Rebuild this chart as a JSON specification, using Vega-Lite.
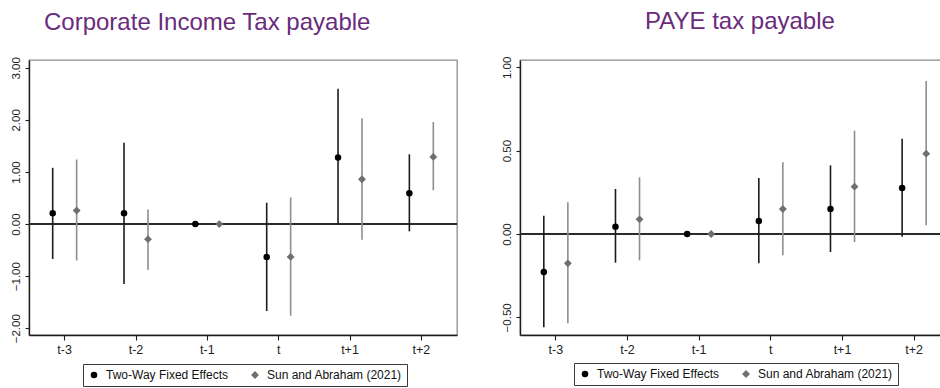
{
  "$schema": "https://vega.github.io/schema/vega-lite/v6.json",
  "padding": {"left": 9, "top": 9, "right": 0, "bottom": 0},
  "datasets": {
    "cit": [
      {"period": "t-3", "method": "Two-Way Fixed Effects", "est": 0.21, "lo": -0.67, "hi": 1.08},
      {"period": "t-3", "method": "Sun and Abraham (2021)", "est": 0.26, "lo": -0.70, "hi": 1.24},
      {"period": "t-2", "method": "Two-Way Fixed Effects", "est": 0.21, "lo": -1.15, "hi": 1.56},
      {"period": "t-2", "method": "Sun and Abraham (2021)", "est": -0.29, "lo": -0.88, "hi": 0.28},
      {"period": "t-1", "method": "Two-Way Fixed Effects", "est": 0, "lo": 0, "hi": 0},
      {"period": "t-1", "method": "Sun and Abraham (2021)", "est": 0, "lo": 0, "hi": 0},
      {"period": "t", "method": "Two-Way Fixed Effects", "est": -0.63, "lo": -1.67, "hi": 0.41},
      {"period": "t", "method": "Sun and Abraham (2021)", "est": -0.63, "lo": -1.76, "hi": 0.51},
      {"period": "t+1", "method": "Two-Way Fixed Effects", "est": 1.28, "lo": -0.02, "hi": 2.60},
      {"period": "t+1", "method": "Sun and Abraham (2021)", "est": 0.86, "lo": -0.30, "hi": 2.03},
      {"period": "t+2", "method": "Two-Way Fixed Effects", "est": 0.59, "lo": -0.14, "hi": 1.34},
      {"period": "t+2", "method": "Sun and Abraham (2021)", "est": 1.29, "lo": 0.65, "hi": 1.96}
    ],
    "paye": [
      {"period": "t-3", "method": "Two-Way Fixed Effects", "est": -0.228, "lo": -0.56, "hi": 0.11},
      {"period": "t-3", "method": "Sun and Abraham (2021)", "est": -0.176, "lo": -0.536, "hi": 0.19},
      {"period": "t-2", "method": "Two-Way Fixed Effects", "est": 0.044, "lo": -0.172, "hi": 0.27},
      {"period": "t-2", "method": "Sun and Abraham (2021)", "est": 0.088, "lo": -0.158, "hi": 0.34},
      {"period": "t-1", "method": "Two-Way Fixed Effects", "est": 0, "lo": 0, "hi": 0},
      {"period": "t-1", "method": "Sun and Abraham (2021)", "est": 0, "lo": 0, "hi": 0},
      {"period": "t", "method": "Two-Way Fixed Effects", "est": 0.078, "lo": -0.176, "hi": 0.336},
      {"period": "t", "method": "Sun and Abraham (2021)", "est": 0.15, "lo": -0.128, "hi": 0.43},
      {"period": "t+1", "method": "Two-Way Fixed Effects", "est": 0.15, "lo": -0.108, "hi": 0.412},
      {"period": "t+1", "method": "Sun and Abraham (2021)", "est": 0.284, "lo": -0.048, "hi": 0.62},
      {"period": "t+2", "method": "Two-Way Fixed Effects", "est": 0.276, "lo": -0.016, "hi": 0.572},
      {"period": "t+2", "method": "Sun and Abraham (2021)", "est": 0.482, "lo": 0.052, "hi": 0.918}
    ]
  },
  "config": {
    "font": "Liberation Sans",
    "view": {"stroke": "#8c8c8c", "strokeWidth": 1.3},
    "axis": {"grid": false, "domainColor": "#1e1e1e", "tickColor": "#1e1e1e", "labelColor": "#222222", "labelFontSize": 12, "domainWidth": 1.4, "tickWidth": 1.1, "labelFont": "Liberation Sans"},
    "axisX": {"tickSize": 5, "labelPadding": 3, "labelAngle": 0, "labelFontSize": 12.5},
    "axisY": {"tickSize": 4, "labelAngle": -90, "labelPadding": 4, "format": ".2f", "labelFontSize": 11.5},
    "title": {"fontSize": 24, "font": "Liberation Sans", "fontWeight": "normal", "color": "#6a2b7d", "anchor": "start", "offset": 22},
    "legend": {"direction": "horizontal", "strokeColor": "#3a3a3a", "padding": 5, "labelFontSize": 12, "labelFont": "Liberation Sans", "labelColor": "#111111", "columnPadding": 20, "labelOffset": 6, "symbolStrokeWidth": 0},
    "concat": {"spacing": 41}
  },
  "resolve": {
    "scale": {"x": "independent", "y": "independent", "color": "independent", "shape": "independent", "size": "independent", "xOffset": "independent"},
    "legend": {"color": "independent", "shape": "independent", "size": "independent"}
  },
  "hconcat": [
    {
      "width": 428,
      "height": 275,
      "title": {"text": "Corporate Income Tax payable", "dx": 34},
      "data": {"name": "cit"},
      "layer": [
        {
          "mark": {"type": "rule", "color": "#2b2b2b", "strokeWidth": 1.3},
          "encoding": {
            "y": {"datum": 0, "type": "quantitative", "title": null, "scale": {"domain": [-2.13, 3.15], "nice": false, "zero": false}, "axis": {"values": [-2, -1, 0, 1, 2, 3]}}
          }
        },
        {
          "mark": {"type": "rule", "strokeWidth": 1.6},
          "encoding": {
            "x": {"field": "period", "type": "nominal", "sort": ["t-3", "t-2", "t-1", "t", "t+1", "t+2"], "title": null, "scale": {"type": "band", "paddingInner": 0, "paddingOuter": 0}},
            "xOffset": {"field": "method", "type": "nominal", "sort": ["Two-Way Fixed Effects", "Sun and Abraham (2021)"], "scale": {"paddingInner": 0, "paddingOuter": 0.49}},
            "y": {"field": "lo", "type": "quantitative", "title": null, "scale": {"domain": [-2.13, 3.15], "nice": false, "zero": false}, "axis": {"values": [-2, -1, 0, 1, 2, 3]}},
            "y2": {"field": "hi"},
            "color": {"condition": {"test": "datum.method === 'Two-Way Fixed Effects'", "value": "#1c1c1c"}, "value": "#8e8e8e"}
          }
        },
        {
          "mark": {"type": "point", "filled": true, "opacity": 1},
          "encoding": {
            "x": {"field": "period", "type": "nominal", "sort": ["t-3", "t-2", "t-1", "t", "t+1", "t+2"], "title": null, "scale": {"type": "band", "paddingInner": 0, "paddingOuter": 0}},
            "xOffset": {"field": "method", "type": "nominal", "sort": ["Two-Way Fixed Effects", "Sun and Abraham (2021)"], "scale": {"paddingInner": 0, "paddingOuter": 0.49}},
            "y": {"field": "est", "type": "quantitative", "title": null, "scale": {"domain": [-2.13, 3.15], "nice": false, "zero": false}, "axis": {"values": [-2, -1, 0, 1, 2, 3]}},
            "color": {"field": "method", "type": "nominal", "scale": {"domain": ["Two-Way Fixed Effects", "Sun and Abraham (2021)"], "range": ["#000000", "#6f6f6f"]}, "legend": {"title": null, "orient": "none", "legendX": 54, "legendY": 304}},
            "shape": {"field": "method", "type": "nominal", "scale": {"domain": ["Two-Way Fixed Effects", "Sun and Abraham (2021)"], "range": ["circle", "diamond"]}, "legend": {"title": null, "orient": "none", "legendX": 54, "legendY": 304}},
            "size": {"field": "method", "type": "nominal", "scale": {"domain": ["Two-Way Fixed Effects", "Sun and Abraham (2021)"], "range": [42, 62]}, "legend": {"title": null, "orient": "none", "legendX": 54, "legendY": 304}}
          }
        }
      ]
    },
    {
      "width": 430,
      "height": 275,
      "title": {"text": "PAYE tax payable", "dx": 144},
      "data": {"name": "paye"},
      "layer": [
        {
          "mark": {"type": "rule", "color": "#2b2b2b", "strokeWidth": 1.3},
          "encoding": {
            "y": {"datum": 0, "type": "quantitative", "title": null, "scale": {"domain": [-0.606, 1.044], "nice": false, "zero": false}, "axis": {"values": [-0.5, 0, 0.5, 1]}}
          }
        },
        {
          "mark": {"type": "rule", "strokeWidth": 1.6},
          "encoding": {
            "x": {"field": "period", "type": "nominal", "sort": ["t-3", "t-2", "t-1", "t", "t+1", "t+2"], "title": null, "scale": {"type": "band", "paddingInner": 0, "paddingOuter": 0}},
            "xOffset": {"field": "method", "type": "nominal", "sort": ["Two-Way Fixed Effects", "Sun and Abraham (2021)"], "scale": {"paddingInner": 0, "paddingOuter": 0.49}},
            "y": {"field": "lo", "type": "quantitative", "title": null, "scale": {"domain": [-0.606, 1.044], "nice": false, "zero": false}, "axis": {"values": [-0.5, 0, 0.5, 1]}},
            "y2": {"field": "hi"},
            "color": {"condition": {"test": "datum.method === 'Two-Way Fixed Effects'", "value": "#1c1c1c"}, "value": "#8e8e8e"}
          }
        },
        {
          "mark": {"type": "point", "filled": true, "opacity": 1},
          "encoding": {
            "x": {"field": "period", "type": "nominal", "sort": ["t-3", "t-2", "t-1", "t", "t+1", "t+2"], "title": null, "scale": {"type": "band", "paddingInner": 0, "paddingOuter": 0}},
            "xOffset": {"field": "method", "type": "nominal", "sort": ["Two-Way Fixed Effects", "Sun and Abraham (2021)"], "scale": {"paddingInner": 0, "paddingOuter": 0.49}},
            "y": {"field": "est", "type": "quantitative", "title": null, "scale": {"domain": [-0.606, 1.044], "nice": false, "zero": false}, "axis": {"values": [-0.5, 0, 0.5, 1]}},
            "color": {"field": "method", "type": "nominal", "scale": {"domain": ["Two-Way Fixed Effects", "Sun and Abraham (2021)"], "range": ["#000000", "#6f6f6f"]}, "legend": {"title": null, "orient": "none", "legendX": 54, "legendY": 303}},
            "shape": {"field": "method", "type": "nominal", "scale": {"domain": ["Two-Way Fixed Effects", "Sun and Abraham (2021)"], "range": ["circle", "diamond"]}, "legend": {"title": null, "orient": "none", "legendX": 54, "legendY": 303}},
            "size": {"field": "method", "type": "nominal", "scale": {"domain": ["Two-Way Fixed Effects", "Sun and Abraham (2021)"], "range": [42, 62]}, "legend": {"title": null, "orient": "none", "legendX": 54, "legendY": 303}}
          }
        }
      ]
    }
  ]
}
